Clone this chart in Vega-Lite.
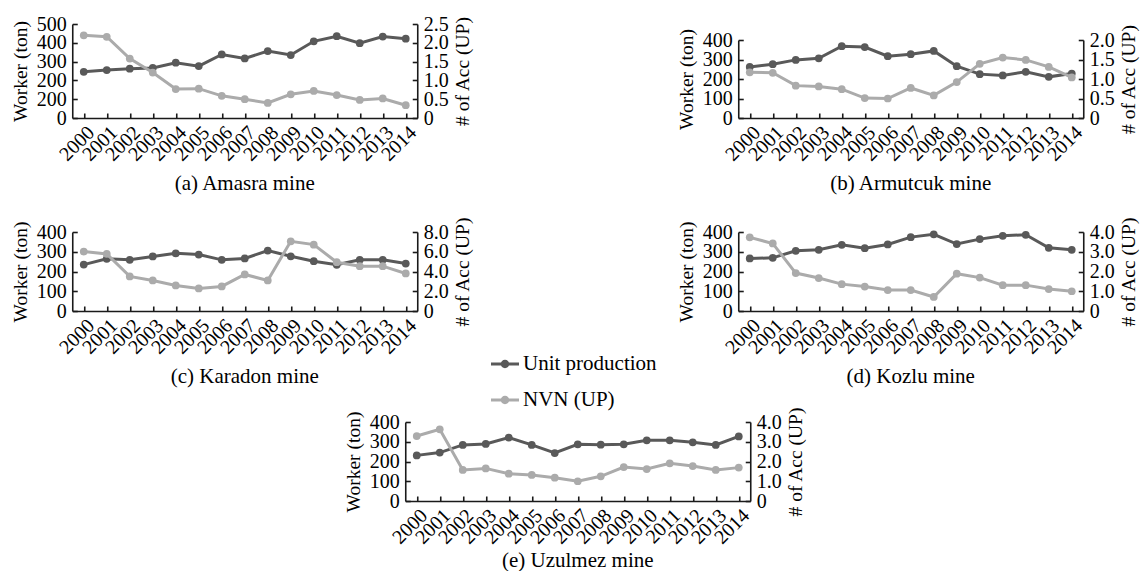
{
  "$schema": "https://vega.github.io/schema/vega-lite/v6.json",
  "padding": {"left": 10, "top": 14, "right": 2, "bottom": 2},
  "background": "white",
  "datasets": {
    "mines": [
      {"mine":"a","year":"2000","up":246,"nvn":2.20},{"mine":"a","year":"2001","up":255,"nvn":2.16},{"mine":"a","year":"2002","up":262,"nvn":1.58},{"mine":"a","year":"2003","up":266,"nvn":1.21},{"mine":"a","year":"2004","up":294,"nvn":0.77},{"mine":"a","year":"2005","up":276,"nvn":0.78},{"mine":"a","year":"2006","up":338,"nvn":0.59},{"mine":"a","year":"2007","up":317,"nvn":0.50},{"mine":"a","year":"2008","up":356,"nvn":0.40},{"mine":"a","year":"2009","up":335,"nvn":0.63},{"mine":"a","year":"2010","up":408,"nvn":0.72},{"mine":"a","year":"2011","up":435,"nvn":0.61},{"mine":"a","year":"2012","up":398,"nvn":0.48},{"mine":"a","year":"2013","up":433,"nvn":0.52},{"mine":"a","year":"2014","up":422,"nvn":0.34},
      {"mine":"b","year":"2000","up":262,"nvn":1.17},{"mine":"b","year":"2001","up":276,"nvn":1.16},{"mine":"b","year":"2002","up":298,"nvn":0.83},{"mine":"b","year":"2003","up":306,"nvn":0.81},{"mine":"b","year":"2004","up":368,"nvn":0.74},{"mine":"b","year":"2005","up":364,"nvn":0.51},{"mine":"b","year":"2006","up":317,"nvn":0.50},{"mine":"b","year":"2007","up":327,"nvn":0.77},{"mine":"b","year":"2008","up":344,"nvn":0.58},{"mine":"b","year":"2009","up":266,"nvn":0.92},{"mine":"b","year":"2010","up":225,"nvn":1.39},{"mine":"b","year":"2011","up":218,"nvn":1.55},{"mine":"b","year":"2012","up":237,"nvn":1.49},{"mine":"b","year":"2013","up":211,"nvn":1.31},{"mine":"b","year":"2014","up":228,"nvn":1.04},
      {"mine":"c","year":"2000","up":235,"nvn":6.02},{"mine":"c","year":"2001","up":264,"nvn":5.78},{"mine":"c","year":"2002","up":259,"nvn":3.50},{"mine":"c","year":"2003","up":276,"nvn":3.09},{"mine":"c","year":"2004","up":292,"nvn":2.59},{"mine":"c","year":"2005","up":286,"nvn":2.29},{"mine":"c","year":"2006","up":259,"nvn":2.49},{"mine":"c","year":"2007","up":266,"nvn":3.70},{"mine":"c","year":"2008","up":306,"nvn":3.09},{"mine":"c","year":"2009","up":277,"nvn":7.06},{"mine":"c","year":"2010","up":252,"nvn":6.72},{"mine":"c","year":"2011","up":234,"nvn":4.94},{"mine":"c","year":"2012","up":259,"nvn":4.54},{"mine":"c","year":"2013","up":259,"nvn":4.54},{"mine":"c","year":"2014","up":240,"nvn":3.80},
      {"mine":"d","year":"2000","up":266,"nvn":3.73},{"mine":"d","year":"2001","up":269,"nvn":3.42},{"mine":"d","year":"2002","up":305,"nvn":1.92},{"mine":"d","year":"2003","up":310,"nvn":1.67},{"mine":"d","year":"2004","up":335,"nvn":1.36},{"mine":"d","year":"2005","up":318,"nvn":1.24},{"mine":"d","year":"2006","up":337,"nvn":1.06},{"mine":"d","year":"2007","up":374,"nvn":1.06},{"mine":"d","year":"2008","up":388,"nvn":0.71},{"mine":"d","year":"2009","up":339,"nvn":1.89},{"mine":"d","year":"2010","up":364,"nvn":1.69},{"mine":"d","year":"2011","up":381,"nvn":1.31},{"mine":"d","year":"2012","up":386,"nvn":1.31},{"mine":"d","year":"2013","up":320,"nvn":1.11},{"mine":"d","year":"2014","up":310,"nvn":1.00},
      {"mine":"e","year":"2000","up":231,"nvn":3.29},{"mine":"e","year":"2001","up":245,"nvn":3.63},{"mine":"e","year":"2002","up":284,"nvn":1.57},{"mine":"e","year":"2003","up":289,"nvn":1.65},{"mine":"e","year":"2004","up":321,"nvn":1.38},{"mine":"e","year":"2005","up":284,"nvn":1.32},{"mine":"e","year":"2006","up":243,"nvn":1.18},{"mine":"e","year":"2007","up":287,"nvn":1.00},{"mine":"e","year":"2008","up":285,"nvn":1.25},{"mine":"e","year":"2009","up":287,"nvn":1.72},{"mine":"e","year":"2010","up":307,"nvn":1.62},{"mine":"e","year":"2011","up":307,"nvn":1.91},{"mine":"e","year":"2012","up":297,"nvn":1.77},{"mine":"e","year":"2013","up":284,"nvn":1.57},{"mine":"e","year":"2014","up":327,"nvn":1.69}
    ]
  },
  "data": {"name": "mines"},
  "config": {
    "font": "Liberation Serif",
    "view": {"stroke": null},
    "axis": {"labelFont": "Liberation Serif", "titleFont": "Liberation Serif", "labelFontSize": 20, "titleFontSize": 19.5, "titleFontWeight": "normal", "labelColor": "#000", "titleColor": "#000", "domainColor": "#1a1a1a", "tickColor": "#1a1a1a", "domainWidth": 1.6, "tickWidth": 1.6, "tickSize": -5, "grid": false, "labelPadding": 11, "titlePadding": 6, "labelOverlap": false, "labelFlush": false, "labelBound": false},
    "axisX": {"labelAngle": -45, "labelPadding": 9},
    "axisRight": {"titleAngle": 270, "titleBaseline": "top", "titlePadding": 5},
    "title": {"font": "Liberation Serif", "fontSize": 21, "fontWeight": "normal", "color": "#000", "orient": "bottom", "anchor": "middle", "offset": 9},
    "legend": {"orient": "none", "legendX": 419, "legendY": 326, "padding": 0, "labelFont": "Liberation Serif", "labelFontSize": 21, "labelColor": "#000", "symbolSize": 784, "rowPadding": 12, "labelOffset": 4, "symbolType": "M-1,-0.1L1,-0.1L1,0.1L-1,0.1Z M0.3,0 A0.3,0.3 0 1,1 -0.3,0 A0.3,0.3 0 1,1 0.3,0Z", "symbolStrokeWidth": 0}
  },
  "vconcat": [
    {
      "vconcat": [
        {
          "hconcat": [
            {
              "width": 345, "height": 94,
              "title": "(a) Amasra mine",
              "transform": [{"filter": "datum.mine == 'a'"}],
              "encoding": {"x": {"field": "year", "type": "ordinal", "scale": {"type": "point", "padding": 0.5}, "axis": {"title": null}}},
              "layer": [
                {"mark": {"type": "line", "strokeWidth": 3, "point": {"filled": true, "size": 60}},
                 "encoding": {"y": {"field": "up", "type": "quantitative", "scale": {"domain": [0, 500]}, "axis": {"title": "Worker (ton)", "values": [0,100,200,300,400,500], "labelExpr": "datum.value == 100 ? '200' : datum.label"}},
                   "color": {"datum": "Unit production", "scale": {"domain": ["Unit production", "NVN (UP)"], "range": ["#595959", "#ababab"]}, "legend": {"title": null, "encode": {"symbols": {"update": {"fill": {"scale": "color", "field": "value"}, "strokeWidth": {"value": 0}}}}}}}},
                {"mark": {"type": "line", "strokeWidth": 3, "point": {"filled": true, "size": 60}},
                 "encoding": {"y": {"field": "nvn", "type": "quantitative", "scale": {"domain": [0, 2.5]}, "axis": {"orient": "right", "title": "# of Acc (UP)", "values": [0,0.5,1,1.5,2,2.5], "labelExpr": "datum.value == 0 ? '0' : format(datum.value, '.1f')"}},
                   "color": {"datum": "NVN (UP)", "scale": {"domain": ["Unit production", "NVN (UP)"], "range": ["#595959", "#ababab"]}, "legend": {"title": null, "encode": {"symbols": {"update": {"fill": {"scale": "color", "field": "value"}, "strokeWidth": {"value": 0}}}}}}}}
              ],
              "resolve": {"scale": {"y": "independent"}}
            },
            {
              "width": 345, "height": 94,
              "title": "(b) Armutcuk mine",
              "transform": [{"filter": "datum.mine == 'b'"}],
              "encoding": {"x": {"field": "year", "type": "ordinal", "scale": {"type": "point", "padding": 0.5}, "axis": {"title": null}}},
              "layer": [
                {"mark": {"type": "line", "strokeWidth": 3, "point": {"filled": true, "size": 60}},
                 "encoding": {"y": {"field": "up", "type": "quantitative", "scale": {"domain": [0, 400], "range": [94, 16]}, "axis": {"title": "Worker (ton)", "values": [0,100,200,300,400], "titleY": 55}},
                   "color": {"datum": "Unit production", "scale": {"domain": ["Unit production", "NVN (UP)"], "range": ["#595959", "#ababab"]}, "legend": {"title": null, "encode": {"symbols": {"update": {"fill": {"scale": "color", "field": "value"}, "strokeWidth": {"value": 0}}}}}}}},
                {"mark": {"type": "line", "strokeWidth": 3, "point": {"filled": true, "size": 60}},
                 "encoding": {"y": {"field": "nvn", "type": "quantitative", "scale": {"domain": [0, 2], "range": [94, 16]}, "axis": {"orient": "right", "title": "# of Acc (UP)", "titleY": 55, "values": [0,0.5,1,1.5,2], "labelExpr": "datum.value == 0 ? '0' : format(datum.value, '.1f')"}},
                   "color": {"datum": "NVN (UP)", "scale": {"domain": ["Unit production", "NVN (UP)"], "range": ["#595959", "#ababab"]}, "legend": {"title": null, "encode": {"symbols": {"update": {"fill": {"scale": "color", "field": "value"}, "strokeWidth": {"value": 0}}}}}}}}
              ],
              "resolve": {"scale": {"y": "independent"}}
            }
          ],
          "spacing": 204
        },
        {
          "hconcat": [
            {
              "width": 345, "height": 79,
              "title": "(c) Karadon mine",
              "transform": [{"filter": "datum.mine == 'c'"}],
              "encoding": {"x": {"field": "year", "type": "ordinal", "scale": {"type": "point", "padding": 0.5}, "axis": {"title": null}}},
              "layer": [
                {"mark": {"type": "line", "strokeWidth": 3, "point": {"filled": true, "size": 60}},
                 "encoding": {"y": {"field": "up", "type": "quantitative", "scale": {"domain": [0, 400]}, "axis": {"title": "Worker (ton)", "values": [0,100,200,300,400]}},
                   "color": {"datum": "Unit production", "scale": {"domain": ["Unit production", "NVN (UP)"], "range": ["#595959", "#ababab"]}, "legend": {"title": null, "encode": {"symbols": {"update": {"fill": {"scale": "color", "field": "value"}, "strokeWidth": {"value": 0}}}}}}}},
                {"mark": {"type": "line", "strokeWidth": 3, "point": {"filled": true, "size": 60}},
                 "encoding": {"y": {"field": "nvn", "type": "quantitative", "scale": {"domain": [0, 8]}, "axis": {"orient": "right", "title": "# of Acc (UP)", "values": [0,2,4,6,8], "labelExpr": "datum.value == 0 ? '0' : format(datum.value, '.1f')"}},
                   "color": {"datum": "NVN (UP)", "scale": {"domain": ["Unit production", "NVN (UP)"], "range": ["#595959", "#ababab"]}, "legend": {"title": null, "encode": {"symbols": {"update": {"fill": {"scale": "color", "field": "value"}, "strokeWidth": {"value": 0}}}}}}}}
              ],
              "resolve": {"scale": {"y": "independent"}}
            },
            {
              "width": 345, "height": 79,
              "title": "(d) Kozlu mine",
              "transform": [{"filter": "datum.mine == 'd'"}],
              "encoding": {"x": {"field": "year", "type": "ordinal", "scale": {"type": "point", "padding": 0.5}, "axis": {"title": null}}},
              "layer": [
                {"mark": {"type": "line", "strokeWidth": 3, "point": {"filled": true, "size": 60}},
                 "encoding": {"y": {"field": "up", "type": "quantitative", "scale": {"domain": [0, 400]}, "axis": {"title": "Worker (ton)", "values": [0,100,200,300,400]}},
                   "color": {"datum": "Unit production", "scale": {"domain": ["Unit production", "NVN (UP)"], "range": ["#595959", "#ababab"]}, "legend": {"title": null, "encode": {"symbols": {"update": {"fill": {"scale": "color", "field": "value"}, "strokeWidth": {"value": 0}}}}}}}},
                {"mark": {"type": "line", "strokeWidth": 3, "point": {"filled": true, "size": 60}},
                 "encoding": {"y": {"field": "nvn", "type": "quantitative", "scale": {"domain": [0, 4]}, "axis": {"orient": "right", "title": "# of Acc (UP)", "values": [0,1,2,3,4], "labelExpr": "datum.value == 0 ? '0' : format(datum.value, '.1f')"}},
                   "color": {"datum": "NVN (UP)", "scale": {"domain": ["Unit production", "NVN (UP)"], "range": ["#595959", "#ababab"]}, "legend": {"title": null, "encode": {"symbols": {"update": {"fill": {"scale": "color", "field": "value"}, "strokeWidth": {"value": 0}}}}}}}}
              ],
              "resolve": {"scale": {"y": "independent"}}
            }
          ],
          "spacing": 204
        }
      ],
      "spacing": 21
    },
    {
      "width": 345, "height": 79,
      "title": {"text": "(e) Uzulmez mine", "offset": 3},
      "transform": [{"filter": "datum.mine == 'e'"}],
      "encoding": {"x": {"field": "year", "type": "ordinal", "scale": {"type": "point", "padding": 0.5}, "axis": {"title": null}}},
      "layer": [
        {"mark": {"type": "line", "strokeWidth": 3, "point": {"filled": true, "size": 60}},
         "encoding": {"y": {"field": "up", "type": "quantitative", "scale": {"domain": [0, 400]}, "axis": {"title": "Worker (ton)", "values": [0,100,200,300,400]}},
           "color": {"datum": "Unit production", "scale": {"domain": ["Unit production", "NVN (UP)"], "range": ["#595959", "#ababab"]}, "legend": {"title": null, "encode": {"symbols": {"update": {"fill": {"scale": "color", "field": "value"}, "strokeWidth": {"value": 0}}}}}}}},
        {"mark": {"type": "line", "strokeWidth": 3, "point": {"filled": true, "size": 60}},
         "encoding": {"y": {"field": "nvn", "type": "quantitative", "scale": {"domain": [0, 4]}, "axis": {"orient": "right", "title": "# of Acc (UP)", "values": [0,1,2,3,4], "labelExpr": "datum.value == 0 ? '0' : format(datum.value, '.1f')"}},
           "color": {"datum": "NVN (UP)", "scale": {"domain": ["Unit production", "NVN (UP)"], "range": ["#595959", "#ababab"]}, "legend": {"title": null, "encode": {"symbols": {"update": {"fill": {"scale": "color", "field": "value"}, "strokeWidth": {"value": 0}}}}}}}}
      ],
      "resolve": {"scale": {"y": "independent"}}
    }
  ],
  "spacing": 18,
  "center": true
}
